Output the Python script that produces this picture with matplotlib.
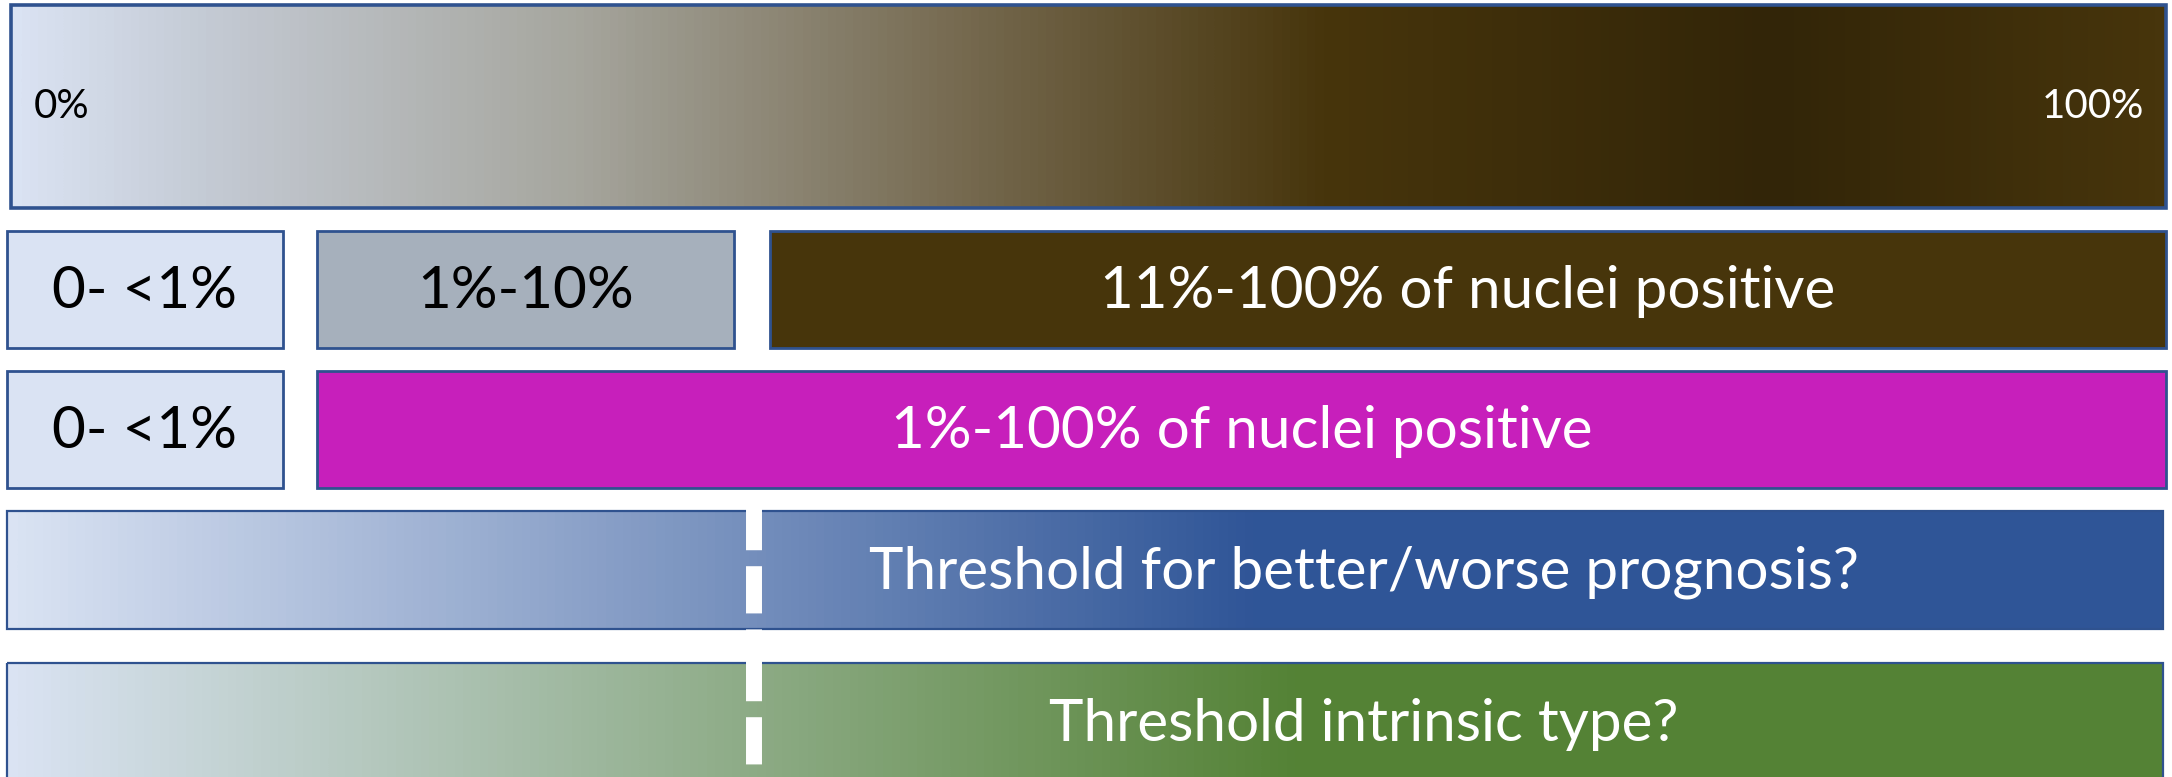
import numpy as np
import matplotlib.pyplot as plt
from matplotlib.colors import LinearSegmentedColormap
from matplotlib.patches import Rectangle

plt.rcParams['font.family'] = ['Lato', 'DejaVu Sans']
plt.rcParams['lines.scale_dashes'] = False

# scale bar ends
scale_labels = ['0%', '100%']

# grouping by share of positive nuclei
three_group_labels = ['0- <1%', '1%-10%', '11%-100% of nuclei positive']
two_group_labels = ['0- <1%', '1%-100% of nuclei positive']

# open questions
threshold_labels = ['Threshold for better/worse prognosis?',
                    'Threshold intrinsic type?']

# layout in pixels (x0, x1, y0, y1)
W, H = 2172, 777
EDGE = '#2f528f'
LIGHT = '#dae3f3'
FS = 42

scale_box = (11, 2166, 5, 208)
three_boxes = [(7, 283), (317, 734), (770, 2166)]
three_y = (231, 348)
three_colors = [LIGHT, '#a6b0bc', '#47350b']
three_text = ['black', 'black', 'white']
two_boxes = [(7, 283), (317, 2166)]
two_y = (371, 488)
two_colors = [LIGHT, '#c71fbb']
two_text = ['black', 'white']
thr_x = (7, 2163)
thr_rows = [(511, 629), (663, 790)]
thr_cmaps = [
    [(0.0, LIGHT), (0.58, '#2f5597'), (1.0, '#2f5597')],
    [(0.0, LIGHT), (0.60, '#548235'), (1.0, '#548235')],
]
thr_text_x = 1364
dash_x = 754
dash_spans = [(503, 680), (654, 777)]

scale_cmap = LinearSegmentedColormap.from_list('scale', [
    (0.0, LIGHT), (0.09, '#c4cad4'), (0.26, '#a6a69e'), (0.44, '#766a50'),
    (0.61, '#47350c'), (0.82, '#322508'), (1.0, '#47350c')])


def gradient_box(ax, x0, x1, y0, y1, cmap, lw=2.2):
    grad = np.linspace(0, 1, 512).reshape(1, -1)
    ax.imshow(grad, cmap=cmap, aspect='auto', extent=(x0, x1, y1, y0),
              interpolation='bilinear', zorder=1)
    ax.add_patch(Rectangle((x0, y0), x1 - x0, y1 - y0, fill=False,
                           edgecolor=EDGE, lw=lw, zorder=2))


def flat_box(ax, x0, x1, y0, y1, color, label, tcolor):
    ax.add_patch(Rectangle((x0, y0), x1 - x0, y1 - y0, facecolor=color,
                           edgecolor=EDGE, lw=2.0, zorder=2))
    ax.text((x0 + x1) / 2, (y0 + y1) / 2 + 2, label, color=tcolor,
            fontsize=FS, ha='center', va='center', zorder=3)


fig = plt.figure(figsize=(W / 100, H / 100), dpi=100)
ax = fig.add_axes([0, 0, 1, 1])
ax.set_xlim(0, W)
ax.set_ylim(H, 0)
ax.axis('off')

# continuous 0-100% scale
x0, x1, y0, y1 = scale_box
gradient_box(ax, x0, x1, y0, y1, scale_cmap, lw=2.6)
ax.text(x0 + 23, (y0 + y1) / 2, scale_labels[0], fontsize=29,
        ha='left', va='center', color='black', zorder=3)
ax.text(x1 - 22, (y0 + y1) / 2, scale_labels[1], fontsize=29,
        ha='right', va='center', color='white', zorder=3)

# three groups
for (bx0, bx1), c, lab, tc in zip(three_boxes, three_colors,
                                   three_group_labels, three_text):
    flat_box(ax, bx0, bx1, three_y[0], three_y[1], c, lab, tc)

# two groups
for (bx0, bx1), c, lab, tc in zip(two_boxes, two_colors,
                                   two_group_labels, two_text):
    flat_box(ax, bx0, bx1, two_y[0], two_y[1], c, lab, tc)

# threshold rows
for (ry0, ry1), stops, lab in zip(thr_rows, thr_cmaps, threshold_labels):
    cmap = LinearSegmentedColormap.from_list('thr', stops)
    gradient_box(ax, thr_x[0], thr_x[1], ry0, ry1, cmap, lw=1.6)
    ax.text(thr_text_x, (ry0 + min(ry1, H + 5)) / 2 + 2, lab, fontsize=FS,
            color='white', ha='center', va='center', zorder=3)

# dashed cut-off line
for s0, s1 in dash_spans:
    ax.plot([dash_x, dash_x], [s0, s1], color='white', lw=11.5,
            dashes=(34, 11.5), solid_capstyle='butt', dash_capstyle='butt',
            zorder=4)

fig.savefig('out.png', dpi=100)
